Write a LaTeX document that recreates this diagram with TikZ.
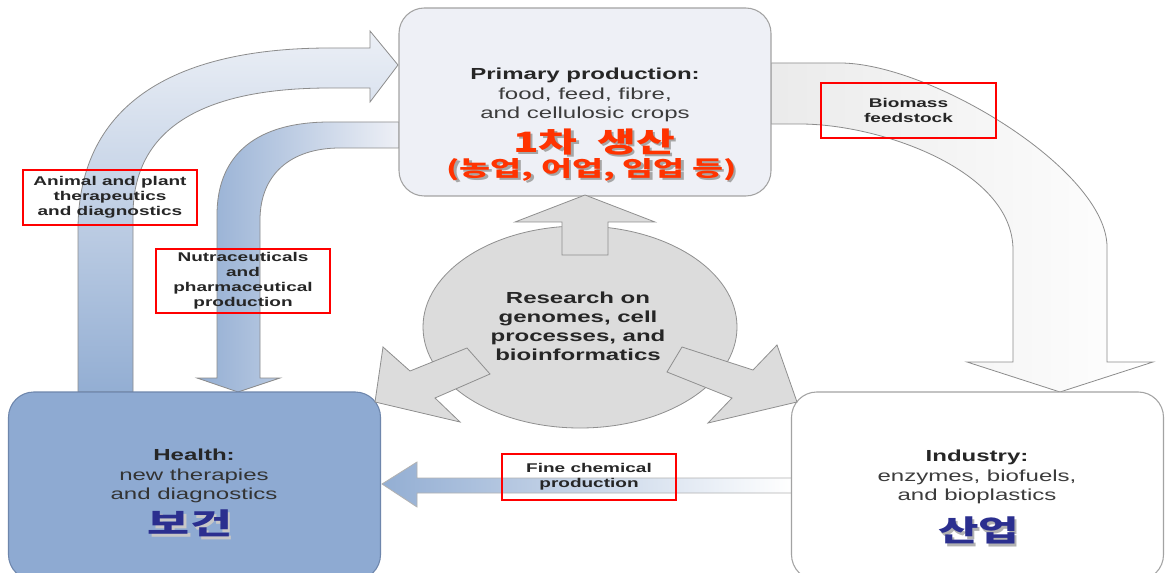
\documentclass[tikz,border=0pt]{standalone}
\usepackage{fontspec}
\usepackage{graphicx}
\usetikzlibrary{shapes.geometric}
% wide sans used throughout; Korean text is widened with \resizebox
\newfontfamily\sw[FakeStretch=1.5]{Liberation Sans}
\newfontfamily\kr{Noto Sans CJK KR}
\definecolor{primfill}{HTML}{EEF0F6}
\definecolor{healthfill}{HTML}{8EAAD2}
\definecolor{healthline}{HTML}{6E86AC}
\definecolor{boxline}{HTML}{A3A3A3}
\definecolor{circfill}{HTML}{DCDCDC}
\definecolor{circline}{HTML}{8F8F8F}
\definecolor{bluedark}{HTML}{93AED3}
\definecolor{bluelight}{HTML}{E4E9F2}
\definecolor{krred}{HTML}{FF3300}
\definecolor{krnavy}{HTML}{2B2F8F}
\definecolor{txtdark}{HTML}{262626}
\definecolor{txtbody}{HTML}{3C3C3C}
% text widened to #4 with a soft drop shadow: #1 shadow colour, #2 text colour, #3 text
\newcommand\dropshadowtext[4]{\resizebox{#4}{\height}{%
  \makebox[0pt][l]{\kern1.2pt\raisebox{-2pt}{\color{#1}#3}}{\color{#2}#3}}}
\begin{document}
\begin{tikzpicture}[x=0.75pt,y=-0.75pt,
  bigbox/.style={draw=boxline,line width=0.8pt,rounded corners=19pt,
    minimum width=279pt,minimum height=141pt,inner sep=0pt},
  bodytext/.style={font={\sw\fontsize{12pt}{14.4pt}\selectfont},align=center,
    text=txtbody,inner sep=0pt},
  tagbox/.style={draw=red,line width=1.3pt,inner sep=0pt,align=center,
    text=txtdark,font={\sw\bfseries\fontsize{9.5pt}{11.3pt}\selectfont}},
  krtext/.style={inner sep=0pt},
  blockarrow/.style={draw=circline,line width=0.6pt,fill=circfill},
  flowline/.style={draw=black!45,line width=0.6pt}]
\useasboundingbox (0,0) rectangle (1166,573);
\clip (0,0) rectangle (1166,573);
\fill[white] (0,0) rectangle (1166,573);

% curved flow: health -> primary production
\path[flowline,top color=bluelight!70!white,bottom color=bluedark]
  (78,392) -- (78,230) .. controls (78,100) and (180,48) .. (330,48)
  -- (370,48) -- (370,31) -- (398,65) -- (370,102) -- (370,88) -- (330,88)
  .. controls (200,88) and (133,130) .. (133,215) -- (133,392) -- cycle;

% curved flow: primary production -> health
\path[flowline,left color=bluedark,right color=primfill]
  (399,122) -- (330,122) .. controls (250,122) and (217,160) .. (217,215)
  -- (217,378) -- (197,378) -- (238,392) -- (280,378) -- (260,378)
  -- (260,220) .. controls (260,175) and (290,148) .. (340,148)
  -- (399,148) -- cycle;

% curved flow: primary production -> industry
\path[flowline,left color=black!8,right color=white]
  (771,63) -- (840,63) .. controls (930,63) and (1107,170) .. (1107,247)
  -- (1107,362) -- (1153,362) -- (1060,392) -- (967,362) -- (1013,362)
  -- (1013,250) .. controls (1013,170) and (880,124) .. (800,124)
  -- (771,124) -- cycle;

% straight flow: industry -> health
\path[flowline,draw=black!30,left color=bluedark,right color=white]
  (792,478) -- (417,478) -- (417,462) -- (382,484) -- (417,507)
  -- (417,493) -- (792,493) -- cycle;

% the three sectors
\node[bigbox,fill=primfill] (prim) at (585,102) {};
\node[bigbox,fill=healthfill,draw=healthline] (health) at (194.5,486) {};
\node[bigbox,fill=white] (ind) at (977.5,486) {};

% research hub and its three outgoing arrows
\node[ellipse,draw=circline,line width=0.6pt,fill=circfill,
  minimum width=235.5pt,minimum height=151.5pt,inner sep=0pt] (hub) at (580,327) {};
\path[blockarrow] (562,255) -- (562,222) -- (515,222) -- (585,195)
  -- (655,222) -- (608,222) -- (608,255) -- cycle;
\path[blockarrow] (467,348) -- (410,371) -- (383,347) -- (375,402)
  -- (460,422) -- (435,398) -- (490,374) -- cycle;
\path[blockarrow] (682,347) -- (753,370) -- (777,345) -- (797,402)
  -- (708,423) -- (732,398) -- (667,372) -- cycle;

% texts of the primary production box
\node[bodytext] (primtxt) at (585,95)
  {{\color{txtdark}\bfseries Primary production:}\\food, feed, fibre,\\and cellulosic crops};
\node[krtext,font={\kr\bfseries\fontsize{21pt}{23pt}\selectfont}] (primkr) at (594,143)
  {\dropshadowtext{black!35}{krred}{1차\hspace{10pt}생산}{121.5pt}};
\node[krtext,font={\kr\bfseries\fontsize{16pt}{18pt}\selectfont}] (primsub) at (591.5,171)
  {\dropshadowtext{black!35}{krred}{(농업, 어업, 임업 등)}{217.5pt}};

% texts of the health box
\node[bodytext,text=black!80] (healthtxt) at (194,476)
  {{\color{txtdark}\bfseries Health:}\\new therapies\\and diagnostics};
\node[krtext,font={\kr\bfseries\fontsize{22pt}{24pt}\selectfont}] (healthkr) at (190,525)
  {\dropshadowtext{black!22}{krnavy}{보건}{63pt}};

% texts of the industry box
\node[bodytext] (indtxt) at (977,477)
  {{\color{txtdark}\bfseries Industry:}\\enzymes, biofuels,\\and bioplastics};
\node[krtext,font={\kr\bfseries\fontsize{22pt}{24pt}\selectfont}] (indkr) at (978.5,532)
  {\dropshadowtext{black!30}{krnavy}{산업}{60.75pt}};

% text of the research hub
\node[bodytext,text=txtdark,font={\sw\bfseries\fontsize{12pt}{14.3pt}\selectfont}] (hubtxt) at (578,326)
  {Research on\\genomes, cell\\processes, and\\bioinformatics};

% flow labels
\node[tagbox,minimum width=130.5pt,minimum height=41.25pt] (tagA) at (110,197.5)
  {Animal and plant\\therapeutics\\and diagnostics};
\node[tagbox,minimum width=130.5pt,minimum height=48pt] (tagN) at (243,281)
  {Nutraceuticals\\and\\pharmaceutical\\production};
\node[tagbox,minimum width=131.25pt,minimum height=41.25pt] (tagB) at (908.5,110.5)
  {Biomass\\feedstock};
\node[tagbox,minimum width=130.5pt,minimum height=34.5pt] (tagF) at (589,477)
  {Fine chemical\\production};
\end{tikzpicture}
\end{document}
